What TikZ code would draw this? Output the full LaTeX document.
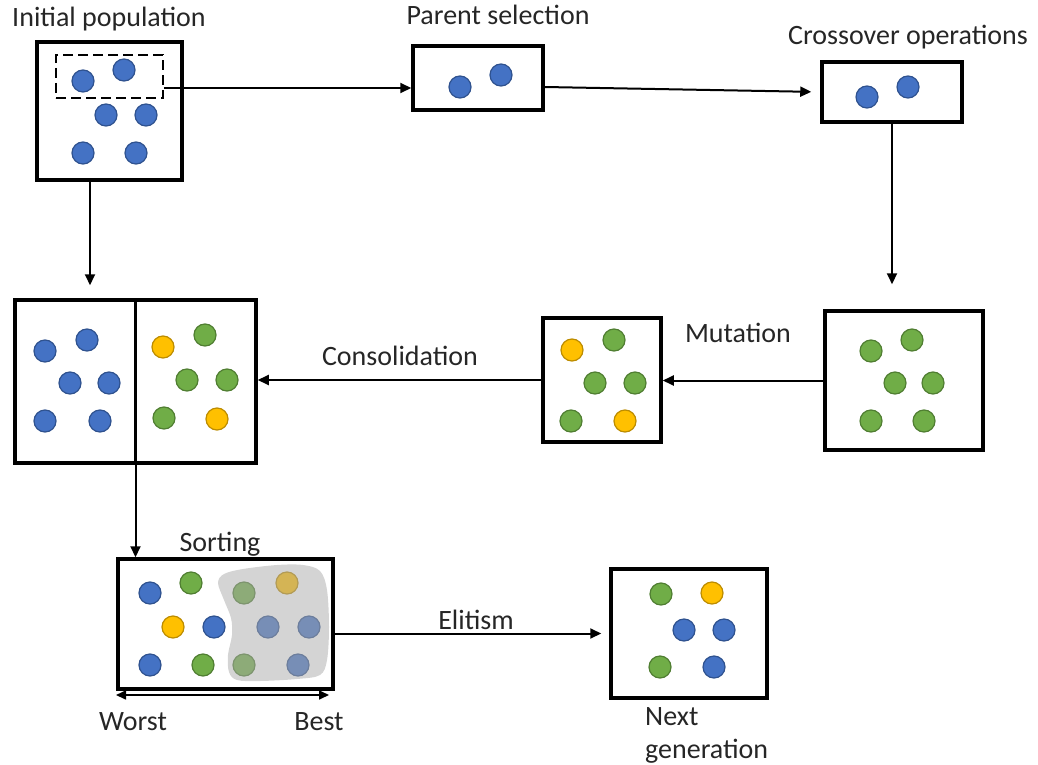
\documentclass[tikz,border=0pt]{standalone}
\usepackage{fontspec}
\setmainfont{Carlito}
\usetikzlibrary{arrows.meta,calc}
\definecolor{cblue}{RGB}{68,114,196}
\definecolor{cbluedk}{RGB}{47,82,143}
\definecolor{cgreen}{RGB}{112,173,71}
\definecolor{cgreendk}{RGB}{80,126,50}
\definecolor{cyellow}{RGB}{255,192,0}
\definecolor{cyellowdk}{RGB}{188,140,0}
\definecolor{blobgray}{RGB}{170,170,170}
\tikzset{
  box/.style={draw=black, line width=3.5pt, inner sep=0pt},
  dashbox/.style={draw=black, line width=2.2pt, dash pattern=on 10pt off 5pt, inner sep=0pt},
  dot/.style={circle, inner sep=0pt, minimum size=22pt, line width=1.2pt},
  dotb/.style={dot, fill=cblue, draw=cbluedk},
  dotg/.style={dot, fill=cgreen, draw=cgreendk},
  doty/.style={dot, fill=cyellow, draw=cyellowdk},
  lbl/.style={font=\fontsize{28}{33}\selectfont, inner sep=0pt, anchor=base, text=black!85},
  arr/.style={-{Triangle[length=11pt,width=10pt]}, line width=2pt},
  dblarr/.style={{Triangle[length=10pt,width=9pt]}-{Triangle[length=10pt,width=9pt]}, line width=1.6pt},
}
\begin{document}
\begin{tikzpicture}[x=1pt,y=-1pt]
\useasboundingbox (0,0) rectangle (1038,765);

% ---------- boxes ----------
\node[box, minimum width=145pt, minimum height=138pt] (init) at (109.5,111) {};
\node[dashbox, minimum width=107pt, minimum height=43pt] (dash) at (109.5,76.5) {};
\node[box, minimum width=130pt, minimum height=64pt] (parent) at (478,78) {};
\node[box, minimum width=140pt, minimum height=60pt] (cross) at (892,92) {};
\node[box, minimum width=158pt, minimum height=139pt] (green) at (904,380.5) {};
\node[box, minimum width=118pt, minimum height=124pt] (mut) at (602,380) {};
\node[box, minimum width=241pt, minimum height=163pt] (cons) at (135.5,381.5) {};
\node[box, minimum width=215pt, minimum height=130pt] (sort) at (225.5,624) {};
\node[box, minimum width=156pt, minimum height=129pt] (next) at (689,633.5) {};
\draw[line width=3.5pt] (cons.north) -- (cons.south);

% ---------- circles ----------
\foreach \n/\x/\y/\c in {
  i1/83/81/b, i2/124/70/b, i3/106/115/b, i4/146/115/b, i5/83/153/b, i6/136/153/b,
  p1/460/87/b, p2/501/75/b,
  c1/867/97/b, c2/908/87/b,
  g1/871/351/g, g2/912/340/g, g3/895/383/g, g4/933/383/g, g5/871/421/g, g6/924/421/g,
  m1/572/350/y, m2/614/340/g, m3/595/383/g, m4/635/383/g, m5/571/421/g, m6/625/421/y,
  k1/45/351/b, k2/87/340/b, k3/70/383/b, k4/109/383/b, k5/45/421/b, k6/100/421/b,
  k7/163/347/y, k8/205/335/g, k9/187/380/g, k10/227/380/g, k11/164/418/g, k12/217/419/y,
  s1/150/593/b, s2/191/583/g, s3/173/627/y, s4/214/627/b, s5/150/665/b, s6/203/665/g,
  s7/244/593/g, s8/287/583/y, s9/268/627/b, s10/309/627/b, s11/244/665/g, s12/298/665/b,
  n1/661/594/g, n2/712/593/y, n3/684/630/b, n4/724/630/b, n5/660/667/g, n6/714/667/b}
  \node[dot\c] (\n) at (\x,\y) {};

% ---------- shaded blob (best part) ----------
\fill[blobgray, opacity=0.5] plot[smooth cycle, tension=0.55] coordinates {
  (218,583) (224,574) (243,569) (277,565) (303,565) (320,571) (327,590) (329,627)
  (327,660) (320,675) (297,679) (260,681) (237,680) (229,672) (228,655) (232,635)
  (231,618) (224,600)};

% ---------- connectors ----------
\coordinate (c88) at (0,88);
\coordinate (c90) at (90,0);
\draw[arr] (dash.east |- c88) -- (parent.west |- c88);
\draw[arr, shorten >=9pt] ([yshift=-9pt]parent.east) -- (cross.west);
\draw[arr, shorten >=25pt] (cross.south) -- (cross.south |- green.north);
\draw[arr] (green.west) -- (mut.east |- green.west);
\draw[arr] (mut.west) -- (cons.east |- mut.west);
\draw[arr, shorten >=13pt] (init.south -| c90) -- (cons.north -| c90);
\draw[arr] (cons.south) -- (cons.south |- sort.north);
\draw[arr, shorten >=8pt] (sort.east |- next.west) -- (next.west);
\coordinate (wl) at (116,695);
\coordinate (wr) at (329,695);
\draw[dblarr] (wl) -- (wr);

% ---------- labels ----------
\node[lbl] (tinit) at (109,27) {Initial population};
\node[lbl] (tpar) at (498,25) {Parent selection};
\node[lbl] (tcross) at (908,45) {Crossover operations};
\node[lbl] (tmut) at (738,342) {Mutation};
\node[lbl] (tcons) at (400,365) {Consolidation};
\node[lbl] (tsort) at (220,551) {Sorting};
\node[lbl] (telit) at (476,629) {Elitism};
\node[lbl] (tworst) at (133,730) {Worst};
\node[lbl] (tbest) at (319,730) {Best};
\node[lbl, anchor=north west, align=left] (tnext) at (645,707) {Next\\generation};
\end{tikzpicture}
\end{document}
